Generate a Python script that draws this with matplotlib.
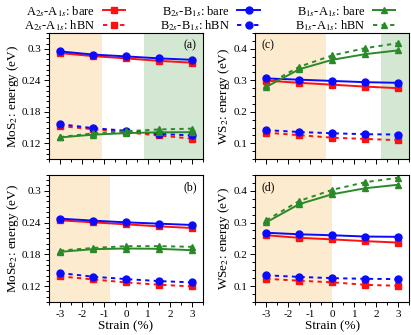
import matplotlib
matplotlib.use("Agg")
import matplotlib.pyplot as plt
from matplotlib.ticker import MultipleLocator
from matplotlib.lines import Line2D

plt.rcParams['font.family'] = ['Liberation Serif', 'DejaVu Serif']
plt.rcParams['mathtext.fontset'] = 'stix'

strain = [-3, -1.5, 0, 1.5, 3]

# (a) MoS2
mos2_A_bare = [0.2918, 0.2860, 0.2817, 0.2770, 0.2735]
mos2_B_bare = [0.2950, 0.2890, 0.2855, 0.2817, 0.2790]
mos2_C_bare = [0.1313, 0.1365, 0.1395, 0.1410, 0.1412]
mos2_A_hbn = [0.1528, 0.1470, 0.1410, 0.1350, 0.1290]
mos2_B_hbn = [0.1566, 0.1490, 0.1440, 0.1380, 0.1350]
mos2_C_hbn = [0.1320, 0.1390, 0.1430, 0.1465, 0.1480]

# (b) MoSe2
mose2_A_bare = [0.2442, 0.2404, 0.2366, 0.2328, 0.2297]
mose2_B_bare = [0.2474, 0.2436, 0.2404, 0.2379, 0.2354]
mose2_C_bare = [0.1847, 0.1897, 0.1910, 0.1904, 0.1878]
mose2_A_hbn = [0.1384, 0.1327, 0.1270, 0.1226, 0.1194]
mose2_B_hbn = [0.1447, 0.1378, 0.1333, 0.1295, 0.1270]
mose2_C_hbn = [0.1870, 0.1920, 0.1954, 0.1954, 0.1942]

# (c) WS2
ws2_A_bare = [0.299, 0.292, 0.286, 0.280, 0.275]
ws2_B_bare = [0.306, 0.302, 0.298, 0.294, 0.292]
ws2_C_bare = [0.279, 0.335, 0.365, 0.383, 0.395]
ws2_A_hbn = [0.134, 0.126, 0.118, 0.114, 0.110]
ws2_B_hbn = [0.142, 0.136, 0.132, 0.129, 0.128]
ws2_C_hbn = [0.285, 0.343, 0.379, 0.402, 0.418]

# (d) WSe2
wse2_A_bare = [0.260, 0.252, 0.247, 0.2415, 0.237]
wse2_B_bare = [0.268, 0.263, 0.260, 0.256, 0.255]
wse2_C_bare = [0.3007, 0.358, 0.389, 0.408, 0.419]
wse2_A_hbn = [0.123, 0.117, 0.112, 0.104, 0.101]
wse2_B_hbn = [0.134, 0.129, 0.125, 0.123, 0.122]
wse2_C_hbn = [0.307, 0.368, 0.403, 0.427, 0.441]

labels = [r'A$_{2s}$-A$_{1s}$: bare', r'A$_{2s}$-A$_{1s}$: hBN',
          r'B$_{2s}$-B$_{1s}$: bare', r'B$_{2s}$-B$_{1s}$: hBN',
          r'B$_{1s}$-A$_{1s}$: bare', r'B$_{1s}$-A$_{1s}$: hBN']

RED = '#ff1010'
BLUE = '#0a0aff'
GREEN = '#2a8a2a'
ORANGE_BG = '#fdebcf'
GREEN_BG = '#d3e7d2'

fig = plt.figure(figsize=(4.11, 3.35), dpi=100)

W = 0.375
axa = fig.add_axes([0.119, 0.525, W, 0.3765])
axc = fig.add_axes([0.621, 0.525, W, 0.3765])
axb = fig.add_axes([0.119, 0.0985, W, 0.3795])
axd = fig.add_axes([0.621, 0.0985, W, 0.3795])

panels = [
    (axa, 'MoS$_2$: energy (eV)', '(a)', 'right',
     [mos2_A_bare, mos2_A_hbn, mos2_B_bare, mos2_B_hbn, mos2_C_bare, mos2_C_hbn],
     (0.09, 0.33), [0.12, 0.18, 0.24, 0.3], 0.01, [(-3.5, -1.1, ORANGE_BG), (0.8, 3.5, GREEN_BG)]),
    (axb, 'MoSe$_2$: energy (eV)', '(b)', 'right',
     [mose2_A_bare, mose2_A_hbn, mose2_B_bare, mose2_B_hbn, mose2_C_bare, mose2_C_hbn],
     (0.09, 0.33), [0.12, 0.18, 0.24, 0.3], 0.01, [(-3.5, -0.72, ORANGE_BG)]),
    (axc, 'WS$_2$: energy (eV)', '(c)', 'left',
     [ws2_A_bare, ws2_A_hbn, ws2_B_bare, ws2_B_hbn, ws2_C_bare, ws2_C_hbn],
     (0.05, 0.45), [0.1, 0.2, 0.3, 0.4], 0.025, [(-3.5, -0.29, ORANGE_BG), (2.2, 3.5, GREEN_BG)]),
    (axd, 'WSe$_2$: energy (eV)', '(d)', 'left',
     [wse2_A_bare, wse2_A_hbn, wse2_B_bare, wse2_B_hbn, wse2_C_bare, wse2_C_hbn],
     (0.05, 0.45), [0.1, 0.2, 0.3, 0.4], 0.025, [(-3.5, 0.0, ORANGE_BG)]),
]

styles = [(RED, 's', '-'), (RED, 's', (0, (2.2, 2.2))),
          (BLUE, 'o', '-'), (BLUE, 'o', (0, (2.2, 2.2))),
          (GREEN, '^', '-'), (GREEN, '^', (0, (2.2, 2.2)))]
order = [0, 2, 4, 1, 3, 5]

for ax, ylab, tag, side, series, ylim, yt, ymin, shades in panels:
    for x0, x1, c in shades:
        ax.axvspan(x0, x1, color=c, lw=0, zorder=0)
    for i in order:
        c, m, ls = styles[i]
        ax.plot(strain, series[i], color=c, marker=m, ls=ls, lw=1.4, ms=5,
                zorder=3 if ls == '-' else 2)
    ax.set_xlim(-3.5, 3.5)
    ax.set_ylim(*ylim)
    ax.set_yticks(yt)
    ax.set_yticklabels([('%g' % v) for v in yt])
    ax.yaxis.set_minor_locator(MultipleLocator(ymin))
    ax.xaxis.set_minor_locator(MultipleLocator(0.5))
    ax.set_xticks([-3, -2, -1, 0, 1, 2, 3])
    ax.tick_params(which='both', direction='out', labelsize=8, width=0.7, pad=2)
    ax.tick_params(which='major', length=3.5)
    ax.tick_params(which='minor', length=2)
    for s in ax.spines.values():
        s.set_linewidth(0.8)
    ax.set_ylabel(ylab, fontsize=9.5, labelpad=1)
    if side == 'right':
        ax.text(0.96, 0.95, tag, transform=ax.transAxes, ha='right', va='top', fontsize=8.5)
    else:
        ax.text(0.04, 0.95, tag, transform=ax.transAxes, ha='left', va='top', fontsize=8.5)

for ax in (axa, axc):
    ax.tick_params(labelbottom=False)
for ax in (axb, axd):
    ax.set_xlabel('Strain (%)', fontsize=9.5, labelpad=1)
    ax.set_xticklabels(['-3', '-2', '-1', '0', '1', '2', '3'])

handles = []
for i in range(6):
    c, m, ls = styles[i]
    handles.append(Line2D([], [], color=c, marker=m, ls=ls, lw=1.4, ms=5))
fig.legend(handles, labels, loc='upper center', bbox_to_anchor=(0.51, 1.015), ncol=3,
           frameon=False, markerfirst=False, fontsize=9, handlelength=1.8,
           handletextpad=0.6, columnspacing=2.8, labelspacing=0.0, borderpad=0.2)

fig.savefig('out.png', dpi=100)
